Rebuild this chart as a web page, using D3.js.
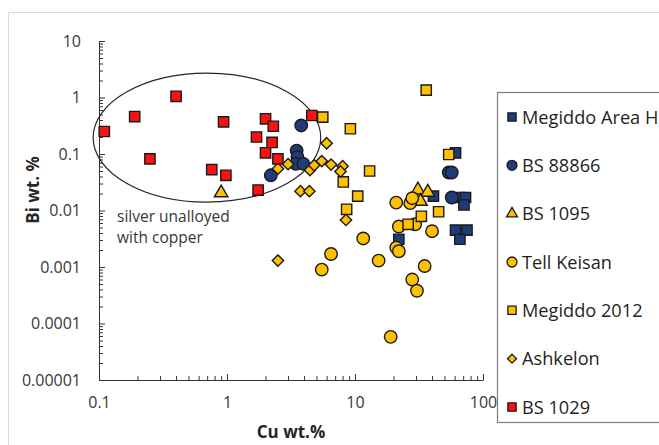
<!DOCTYPE html>
<html>
<head>
<meta charset="utf-8">
<script src="https://cdn.jsdelivr.net/npm/d3@7"></script>
<style>
  html, body { margin: 0; padding: 0; background: #fff; }
  svg { display: block; font-family: "Open Sans", "DejaVu Sans", sans-serif; }
</style>
</head>
<body>
<svg id="chart" width="659" height="445"></svg>
<script>
// Cu and Bi contents (wt.%) of silver objects, one array of [Cu, Bi] per assemblage
const seriesNames = ["Megiddo Area H", "BS 88866", "BS 1095", "Tell Keisan", "Megiddo 2012", "Ashkelon", "BS 1029"];

const megiddoAreaH = [[41, 0.018], [66, 0.017], [73, 0.017], [71, 0.0125], [61, 0.105],
  [61, 0.0045], [75, 0.0045], [66, 0.0031], [22, 0.0031]];
const bs88866 = [[3.8, 0.32], [3.5, 0.115], [3.55, 0.089], [3.45, 0.067], [3.95, 0.067],
  [2.2, 0.042], [54, 0.047], [57, 0.047], [57, 0.017]];
const bs1095 = [[0.9, 0.0205], [31, 0.023], [37, 0.021], [32.5, 0.0145]];
const tellKeisan = [[21, 0.0138], [27, 0.0135], [28, 0.0165], [22, 0.0052], [29.5, 0.0057],
  [40, 0.0043], [11.6, 0.0032], [21, 0.0022], [22, 0.0019], [6.5, 0.0017], [5.5, 0.0009],
  [15.3, 0.0013], [35, 0.00104], [28, 0.0006], [30.5, 0.00038], [19, 0.000058]];
const megiddo2012 = [[36, 1.35], [5.6, 0.45], [9.2, 0.28], [13, 0.05], [8.1, 0.032],
  [10.5, 0.018], [8.6, 0.0105], [54, 0.098], [45, 0.0095], [33, 0.0079], [26, 0.0057]];
const ashkelon = [[6.0, 0.155], [2.5, 0.055], [3.0, 0.066], [4.45, 0.052], [4.8, 0.063],
  [5.5, 0.075], [6.5, 0.065], [8.0, 0.061], [7.7, 0.049], [3.75, 0.022], [4.4, 0.022],
  [8.5, 0.0068], [2.5, 0.0013]];
const bs1029 = [[0.11, 0.25], [0.19, 0.46], [0.40, 1.05], [0.94, 0.37], [0.25, 0.082],
  [0.76, 0.053], [0.98, 0.042], [2.0, 0.42], [2.3, 0.31], [1.7, 0.20], [2.25, 0.16],
  [2.0, 0.105], [2.5, 0.082], [1.75, 0.023], [4.6, 0.48]];

const seriesData = [megiddoAreaH, bs88866, bs1095, tellKeisan, megiddo2012, ashkelon, bs1029];

const xTickValues = [0.1, 1, 10, 100];
const xTickLabels = ["0.1", "1", "10", "100"];
const yTickValues = [0.00001, 0.0001, 0.001, 0.01, 0.1, 1, 10];
const yTickLabels = ["0.00001", "0.0001", "0.001", "0.01", "0.1", "1", "10"];

// "silver unalloyed with copper" region, bounds in data units
const regionCu = [0.09, 5.4];
const regionBi = [0.0141, 2.7];
const regionLabel = ["silver unalloyed", "with copper"];

// marker styling per series
const NAVY = "#1f3c78", GOLD = "#ffc000", RED = "#ff1010", EDGE = "#1a1a1a";
const styles = [
  { shape: "square", fill: NAVY },
  { shape: "circle", fill: NAVY },
  { shape: "triangle", fill: GOLD },
  { shape: "circle", fill: GOLD },
  { shape: "square", fill: GOLD },
  { shape: "diamond", fill: GOLD },
  { shape: "square", fill: RED }
];

const svg = d3.select("#chart");

// outer chart frame
svg.append("rect")
  .attr("x", 8.5).attr("y", 12.5).attr("width", 700).attr("height", 500)
  .attr("fill", "#fff").attr("stroke", "#d9d9d9").attr("stroke-width", 1);

const x = d3.scaleLog().domain([0.1, 100]).range([99, 483]);
const y = d3.scaleLog().domain([0.00001, 10]).range([380, 41]);

function minorValues(domain) {
  const out = [];
  for (let e = Math.round(Math.log10(domain[0])); e < Math.round(Math.log10(domain[1])); e++) {
    for (let m = 2; m <= 9; m++) out.push(m * Math.pow(10, e));
  }
  return out;
}

function symbolPath(shape, scale) {
  const s = scale || 1;
  if (shape === "square") return d3.symbol(d3.symbolSquare, 106 * s * s)();
  if (shape === "circle") return d3.symbol(d3.symbolCircle, 122 * s * s)();
  if (shape === "triangle") return d3.symbol(d3.symbolTriangle, 80 * s * s)();
  return d3.symbol(d3.symbolSquare, 64 * s * s)();
}

// minor ticks
svg.append("g")
  .attr("transform", `translate(0,${y.range()[0]})`)
  .call(d3.axisBottom(x).tickValues(minorValues(x.domain())).tickSizeInner(-4).tickSizeOuter(0).tickFormat(""))
  .call(g => g.select(".domain").remove())
  .call(g => g.selectAll("line").attr("stroke", "#333"));
svg.append("g")
  .attr("transform", `translate(${x.range()[0]},0)`)
  .call(d3.axisLeft(y).tickValues(minorValues(y.domain())).tickSizeInner(-4).tickSizeOuter(0).tickFormat(""))
  .call(g => g.select(".domain").remove())
  .call(g => g.selectAll("line").attr("stroke", "#333"));

// major axes
const xAxis = svg.append("g")
  .attr("transform", `translate(0,${y.range()[0]})`)
  .call(d3.axisBottom(x).tickValues(xTickValues).tickSizeInner(-6).tickSizeOuter(0)
    .tickPadding(17).tickFormat((d, i) => xTickLabels[i]));
const yAxis = svg.append("g")
  .attr("transform", `translate(${x.range()[0]},0)`)
  .call(d3.axisLeft(y).tickValues(yTickValues).tickSizeInner(-6).tickSizeOuter(0)
    .tickPadding(18).tickFormat((d, i) => yTickLabels[i]));
[xAxis, yAxis].forEach(g => {
  g.select(".domain").attr("stroke", "#333");
  g.selectAll("line").attr("stroke", "#333");
  g.selectAll("text").attr("font-size", 16).attr("fill", "#383838")
    .attr("font-family", "'Open Sans', sans-serif");
});

// axis titles
svg.append("text")
  .attr("x", 291).attr("y", 438)
  .attr("text-anchor", "middle").attr("font-size", 17).attr("font-weight", "bold").attr("fill", "#262626")
  .text("Cu wt.%");
svg.append("text")
  .attr("transform", "translate(39,190) rotate(-90)")
  .attr("text-anchor", "middle").attr("font-size", 17).attr("font-weight", "bold").attr("fill", "#262626")
  .text("Bi wt. %");

// region ellipse around Cu-poor silver
const ex0 = x(regionCu[0]), ex1 = x(regionCu[1]);
const ey0 = y(regionBi[1]), ey1 = y(regionBi[0]);
svg.append("ellipse")
  .attr("cx", (ex0 + ex1) / 2).attr("cy", (ey0 + ey1) / 2)
  .attr("rx", (ex1 - ex0) / 2).attr("ry", (ey1 - ey0) / 2)
  .attr("fill", "none").attr("stroke", "#262626").attr("stroke-width", 1.2);

svg.append("text")
  .attr("x", 117).attr("y", 222)
  .attr("font-size", 15.5).attr("fill", "#383838")
  .selectAll("tspan").data(regionLabel).join("tspan")
  .attr("x", 117).attr("dy", (d, i) => i === 0 ? 0 : 21)
  .text(d => d);

// data points
seriesData.forEach((data, i) => {
  const st = styles[i];
  svg.append("g").attr("class", "series")
    .selectAll("path").data(data).join("path")
    .attr("d", symbolPath(st.shape))
    .attr("transform", d => `translate(${x(d[0])},${y(d[1])})` + (st.shape === "diamond" ? " rotate(45)" : ""))
    .attr("fill", st.fill).attr("stroke", EDGE).attr("stroke-width", 1.4);
});

// legend
const legend = svg.append("g");
legend.append("rect")
  .attr("x", 497.5).attr("y", 92.5).attr("width", 200).attr("height", 330)
  .attr("fill", "#fff").attr("stroke", "#7f7f7f").attr("stroke-width", 1.2);
const rowY = d3.scalePoint().domain(seriesNames).range([117, 407]);
const rows = legend.selectAll("g.row").data(seriesNames).join("g")
  .attr("class", "row")
  .attr("transform", d => `translate(0,${rowY(d)})`);
rows.append("path")
  .attr("d", (d, i) => symbolPath(styles[i].shape, 0.8))
  .attr("transform", (d, i) => "translate(512,0)" + (styles[i].shape === "diamond" ? " rotate(45)" : ""))
  .attr("fill", (d, i) => styles[i].fill).attr("stroke", EDGE).attr("stroke-width", 1.3);
rows.append("text")
  .attr("x", 522).attr("dy", "0.36em")
  .attr("font-size", 18.2).attr("fill", "#1f1f1f")
  .text(d => d);
</script>
</body>
</html>
